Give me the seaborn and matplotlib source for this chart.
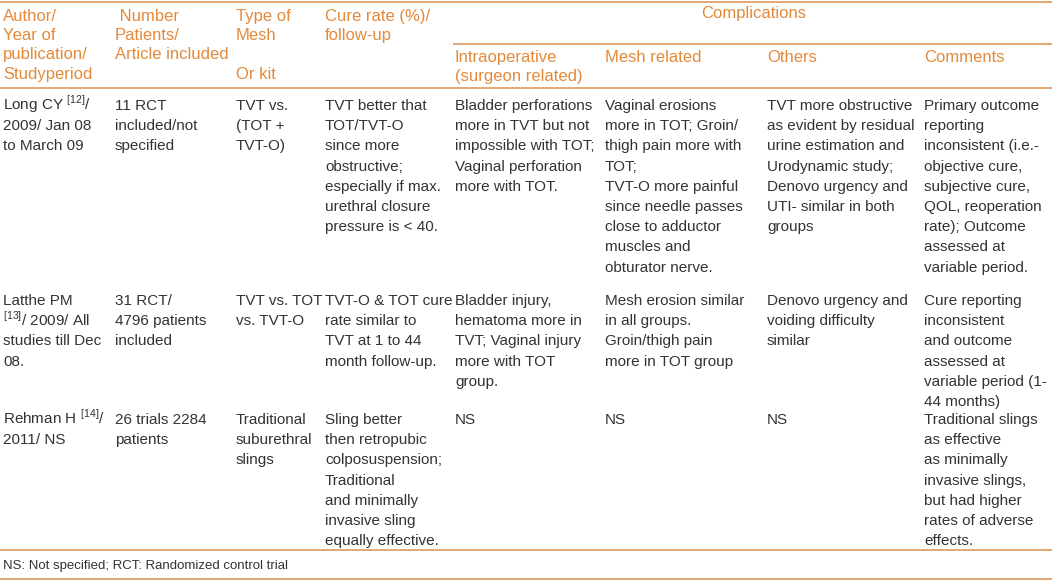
import matplotlib
matplotlib.use("Agg")
import matplotlib.pyplot as plt
import pandas as pd
import seaborn as sns

# table content, one list per column
header_cols = ["Author/\nYear of\npublication/\nStudyperiod",
               " Number\nPatients/\nArticle included",
               "Type of\nMesh\n\nOr kit",
               "Cure rate (%)/\nfollow-up"]
group_header = "Complications"
sub_headers = ["Intraoperative\n(surgeon related)", "Mesh related", "Others", "Comments"]

authors = ["Long CY $^{\\mathrm{[12]}}$/\n2009/ Jan 08\nto March 09",
           "Latthe PM\n$^{\\mathrm{[13]}}$/ 2009/ All\nstudies till Dec\n08.",
           "Rehman H $^{\\mathrm{[14]}}$/\n2011/ NS"]
patients = ["11 RCT\nincluded/not\nspecified",
            "31 RCT/\n4796 patients\nincluded",
            "26 trials 2284\npatients"]
mesh_types = ["TVT vs.\n(TOT +\nTVT-O)",
              "TVT vs. TOT\nvs. TVT-O",
              "Traditional\nsuburethral\nslings"]
cure_rates = ["TVT better that\nTOT/TVT-O\nsince more\nobstructive;\nespecially if max.\nurethral closure\npressure is < 40.",
              "TVT-O & TOT cure\nrate similar to\nTVT at 1 to 44\nmonth follow-up.",
              "Sling better\nthen retropubic\ncolposuspension;\nTraditional\nand minimally\ninvasive sling\nequally effective."]
intraop = ["Bladder perforations\nmore in TVT but not\nimpossible with TOT;\nVaginal perforation\nmore with TOT.",
           "Bladder injury,\nhematoma more in\nTVT; Vaginal injury\nmore with TOT\ngroup.",
           "NS"]
mesh_related = ["Vaginal erosions\nmore in TOT; Groin/\nthigh pain more with\nTOT;\nTVT-O more painful\nsince needle passes\nclose to adductor\nmuscles and\nobturator nerve.",
                "Mesh erosion similar\nin all groups.\nGroin/thigh pain\nmore in TOT group",
                "NS"]
others = ["TVT more obstructive\nas evident by residual\nurine estimation and\nUrodynamic study;\nDenovo urgency and\nUTI- similar in both\ngroups",
          "Denovo urgency and\nvoiding difficulty\nsimilar",
          "NS"]
comments = ["Primary outcome\nreporting\ninconsistent (i.e.-\nobjective cure,\nsubjective cure,\nQOL, reoperation\nrate); Outcome\nassessed at\nvariable period.",
            "Cure reporting\ninconsistent\nand outcome\nassessed at\nvariable period (1-\n44 months)",
            "Traditional slings\nas effective\nas minimally\ninvasive slings,\nbut had higher\nrates of adverse\neffects."]
footnote = "NS: Not specified; RCT: Randomized control trial"

df = pd.DataFrame({"author": authors, "patients": patients, "mesh": mesh_types,
                   "cure": cure_rates, "intraop": intraop, "mesh_rel": mesh_related,
                   "others": others, "comments": comments})

# layout in pixels
col_x = [3, 115, 236, 325, 455, 605, 767, 924]
row_base = [110, 305, 424]
pitch = 20.2
orange = "#E38A3A"
line_col = "#DE9A5C"
text_col = "#333333"

sns.set_theme(style="white")
plt.rcParams["font.family"] = ["Liberation Sans", "DejaVu Sans"]
plt.rcParams["mathtext.fontset"] = "custom"
plt.rcParams["mathtext.rm"] = "Liberation Sans"

fig = plt.figure(figsize=(10.52, 5.81), dpi=100)
ax = fig.add_axes([0, 0, 1, 1])
ax.set_xlim(0, 1052)
ax.set_ylim(581, 0)
ax.axis("off")


def draw_cell(x, y0, text, step, **kw):
    for i, line in enumerate(text.split("\n")):
        if line:
            ax.text(x, y0 + i * step, line, va="baseline", ha="left", **kw)


# header
for j, h in enumerate(header_cols):
    draw_cell(col_x[j], 21, h, 19.2, fontsize=12, color=orange)
ax.text((col_x[4] + 1052) / 2, 18, group_header, ha="center", va="baseline",
        fontsize=12, color=orange)
for j, h in enumerate(sub_headers):
    draw_cell(col_x[4 + j], 62, h, 19.2, fontsize=12, color=orange)

# body
for r, row in df.iterrows():
    for j, val in enumerate(row):
        draw_cell(col_x[j], row_base[r], val, pitch, fontsize=11, color=text_col)

ax.text(col_x[0], 569, footnote, ha="left", va="baseline", fontsize=9.5, color=text_col)

# rules
ax.hlines([1.5, 88, 550, 579], 0, 1052, color=line_col, lw=1.2)
ax.hlines(44, col_x[4] - 2, 1052, color=line_col, lw=1.2)

fig.savefig("out.png", dpi=100)
